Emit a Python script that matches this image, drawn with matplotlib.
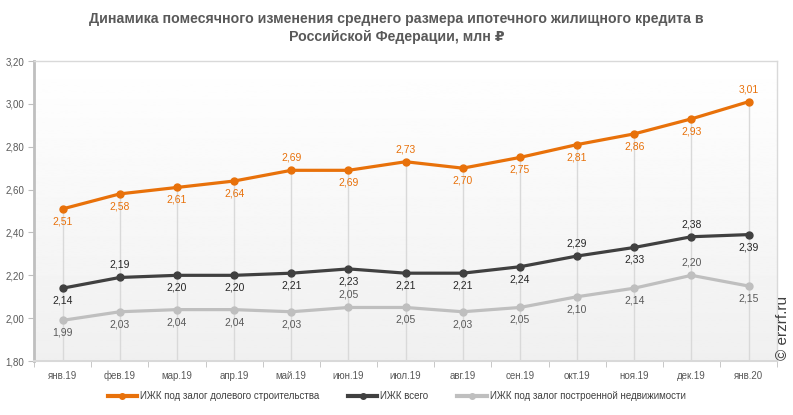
import numpy as np
import matplotlib.pyplot as plt
from matplotlib.lines import Line2D

plt.rcParams['font.family'] = ['Liberation Sans', 'DejaVu Sans']

months = ['янв.19', 'фев.19', 'мар.19', 'апр.19', 'май.19', 'июн.19', 'июл.19',
          'авг.19', 'сен.19', 'окт.19', 'ноя.19', 'дек.19', 'янв.20']
dolevoe = [2.51, 2.58, 2.61, 2.64, 2.69, 2.69, 2.73, 2.70, 2.75, 2.81, 2.86, 2.93, 3.01]
vsego = [2.14, 2.19, 2.20, 2.20, 2.21, 2.23, 2.21, 2.21, 2.24, 2.29, 2.33, 2.38, 2.39]
postroen = [1.99, 2.03, 2.04, 2.04, 2.03, 2.05, 2.05, 2.03, 2.05, 2.10, 2.14, 2.20, 2.15]

# label placement: 1 = above the point, -1 = below
pos_dolevoe = [-1, -1, -1, -1, 1, -1, 1, -1, -1, -1, -1, -1, 1]
pos_vsego = [-1, 1, -1, -1, -1, -1, -1, -1, -1, 1, -1, 1, -1]
pos_postroen = [-1, -1, -1, -1, -1, 1, -1, -1, -1, -1, -1, 1, -1]

names = ['ИЖК под залог долевого строительства', 'ИЖК всего',
         'ИЖК под залог построенной недвижимости']
colors = ['#E8710A', '#404040', '#BFBFBF']
label_colors = ['#E8710A', '#262626', '#595959']

fig = plt.figure(figsize=(7.93, 4.15), dpi=100)
ax = fig.add_axes([0.043, 0.13, 0.937, 0.723])
x = np.arange(len(months))

# background gradient white -> light gray
grad = np.linspace(1.0, 0.94, 256).reshape(-1, 1)
ax.imshow(grad, cmap='gray', vmin=0, vmax=1, aspect='auto',
          extent=[-0.5, 12.5, 1.8, 3.2], zorder=0, origin='upper')

ax.vlines(x, 1.8, dolevoe, color='#d9d9d9', lw=1, zorder=1)

series = [dolevoe, vsego, postroen]
positions = [pos_dolevoe, pos_vsego, pos_postroen]
for vals, pos, c, lc, nm in zip(series, positions, colors, label_colors, names):
    ax.plot(x, vals, color=c, lw=2.3, marker='o', ms=5, zorder=3, label=nm)
    for xi, v, p in zip(x, vals, pos):
        ax.annotate(('%.2f' % v).replace('.', ','), (xi, v),
                    xytext=(0, 9 * p), textcoords='offset points',
                    ha='center', va='center', fontsize=7.5, color=lc, zorder=4)

ax.set_xlim(-0.5, 12.5)
ax.set_ylim(1.8, 3.2)
yt = np.arange(1.8, 3.21, 0.2)
ax.set_yticks(yt)
ax.set_yticklabels([('%.2f' % t).replace('.', ',') for t in yt])
ax.set_xticks(x)
ax.set_xticklabels(months)
ax.set_xticks(np.arange(-0.5, 13, 1), minor=True)
ax.tick_params(axis='x', which='major', length=0, pad=7, labelsize=7, labelcolor='#595959')
ax.tick_params(axis='x', which='minor', length=4, color='#bfbfbf')
ax.tick_params(axis='y', length=4, color='#bfbfbf', labelsize=7, labelcolor='#595959', pad=3)

for s in ['top', 'right']:
    ax.spines[s].set_color('#d9d9d9')
    ax.spines[s].set_linewidth(1)
ax.spines['left'].set_color('#bfbfbf')
ax.spines['left'].set_linewidth(2)
ax.spines['bottom'].set_color('#d9d9d9')
ax.spines['bottom'].set_linewidth(1.5)

fig.text(0.5, 0.932, 'Динамика помесячного изменения среднего размера ипотечного жилищного кредита в\n'
         'Российской Федерации, млн ₽', ha='center', va='center',
         fontsize=10.2, fontweight='bold', color='#595959', linespacing=1.35)

fig.text(0.987, 0.132, '© erzrf.ru', rotation=90, ha='center', va='bottom',
         fontsize=11, color='#404040')

handles = [Line2D([0], [0], color=c, lw=3, marker='o', ms=4) for c in colors]
fig.legend(handles, names, loc='center', bbox_to_anchor=(0.5, 0.045), ncol=3,
           frameon=False, fontsize=7, labelcolor='#404040', handlelength=3,
           columnspacing=3, handletextpad=0.3)

fig.savefig('out.png', dpi=100)
